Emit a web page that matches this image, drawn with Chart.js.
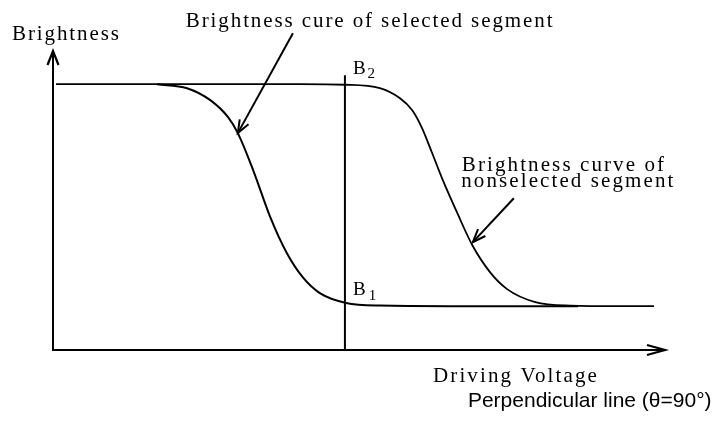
<!DOCTYPE html>
<html>
<head>
<meta charset="utf-8">
<script src="https://cdn.jsdelivr.net/npm/chart.js@4.4.1/dist/chart.umd.min.js"></script>
<style>
  html, body { margin: 0; padding: 0; background: #fff; }
  #wrap { width: 716px; height: 427px; position: relative; }
</style>
</head>
<body>
<div id="wrap"><canvas id="chart"></canvas></div>
<script>
// Driving voltage (arbitrary units) and normalised brightness.
const selectedX = [1.70, 2.19, 2.57, 2.86, 3.02, 3.27, 3.55, 3.82, 4.08, 4.36, 4.79, 5.34, 6.49, 8.58];
const selectedY = [1.000, 0.985, 0.940, 0.876, 0.816, 0.677, 0.500, 0.365, 0.274, 0.214, 0.177, 0.167, 0.165, 0.165];

const nonselectedX = [0.05, 4.04, 4.77, 5.34, 5.67, 5.87, 6.03, 6.19, 6.37, 6.62, 6.85, 7.14, 7.42, 7.88, 8.45, 9.26, 9.82];
const nonselectedY = [1.000, 1.000, 0.998, 0.985, 0.947, 0.902, 0.835, 0.744, 0.639, 0.508, 0.395, 0.293, 0.229, 0.180, 0.167, 0.165, 0.165];

// Perpendicular line (theta = 90deg) at the selected driving voltage
const perpendicularX = [4.77, 4.77];
const perpendicularY = [0, 1.034];

const axisTitles = { y: 'Brightness', x: 'Driving Voltage' };
const curveNotes = ['Brightness cure of selected segment', 'Brightness curve of', 'nonselected segment'];
const footNote = 'Perpendicular line (\u03b8=90\u00b0)';

const toPoints = (xs, ys) => xs.map((x, i) => ({ x, y: ys[i] }));

const SERIF = '"Liberation Serif", "Times New Roman", serif';
const SANS = '"Liberation Sans", Arial, sans-serif';

function arrowHead(ctx, x1, y1, x2, y2, len, half) {
  const a = Math.atan2(y2 - y1, x2 - x1);
  const bx = x2 - len * Math.cos(a), by = y2 - len * Math.sin(a);
  const nx = -Math.sin(a) * half, ny = Math.cos(a) * half;
  ctx.beginPath();
  ctx.moveTo(bx + nx, by + ny);
  ctx.lineTo(x2, y2);
  ctx.lineTo(bx - nx, by - ny);
  ctx.stroke();
}

const sketchPlugin = {
  id: 'sketch',
  afterDatasetsDraw(chart) {
    const { ctx, chartArea } = chart;
    const sx = chart.scales.x, sy = chart.scales.y;
    const px = v => sx.getPixelForValue(v);
    const py = v => sy.getPixelForValue(v);

    ctx.save();
    ctx.strokeStyle = '#000';
    ctx.fillStyle = '#000';
    ctx.lineCap = 'butt';

    // axes with open arrow heads
    const ox = px(0), oy = py(0);
    ctx.lineWidth = 2;
    ctx.beginPath();
    ctx.moveTo(ox, oy + 1);
    ctx.lineTo(ox, chartArea.top);
    ctx.moveTo(ox - 1, oy);
    ctx.lineTo(chartArea.right, oy);
    ctx.stroke();
    ctx.lineWidth = 2.2;
    arrowHead(ctx, ox, oy, ox, chartArea.top, 14, 5.5);
    arrowHead(ctx, ox, oy, chartArea.right, oy, 18, 5);

    // pointer arrows to the curves
    ctx.lineWidth = 2;
    const pointers = [[3.92, 1.192, 3.02, 0.816], [7.53, 0.571, 6.86, 0.406]];
    pointers.forEach(([x1, y1, x2, y2]) => {
      ctx.beginPath();
      ctx.moveTo(px(x1), py(y1));
      ctx.lineTo(px(x2), py(y2));
      ctx.stroke();
      arrowHead(ctx, px(x1), py(y1), px(x2), py(y2), 13, 5);
    });

    // texts
    ctx.textBaseline = 'alphabetic';
    ctx.textAlign = 'left';
    const text = (s, x, y, font, spacing) => {
      ctx.font = font;
      ctx.letterSpacing = spacing || '0px';
      ctx.fillText(s, px(x), py(y));
    };
    text(axisTitles.y, -0.67, 1.165, '21px ' + SERIF, '1.9px');
    text(axisTitles.x, 6.21, -0.120, '21px ' + SERIF, '2.1px');
    text(curveNotes[0], 2.17, 1.214, '21px ' + SERIF, '1.9px');
    text(curveNotes[1], 6.68, 0.673, '21px ' + SERIF, '2.1px');
    text(curveNotes[2], 6.67, 0.613, '21px ' + SERIF, '2.1px');
    text(footNote, 6.78, -0.214, '21px ' + SANS, '0px');

    text('B', 4.90, 1.039, '19px ' + SERIF, '0px');
    text('2', 5.14, 1.023, '15px ' + SERIF, '0px');
    text('B', 4.90, 0.207, '19px ' + SERIF, '0px');
    text('1', 5.16, 0.188, '15px ' + SERIF, '0px');

    ctx.restore();
  }
};

const lineStyle = {
  showLine: true,
  borderColor: '#000',
  backgroundColor: '#000',
  pointRadius: 0,
  fill: false,
  clip: false
};

new Chart(document.getElementById('chart'), {
  type: 'scatter',
  data: {
    datasets: [
      { ...lineStyle, label: 'Selected segment', data: toPoints(selectedX, selectedY),
        borderWidth: 2, cubicInterpolationMode: 'monotone' },
      { ...lineStyle, label: 'Nonselected segment', data: toPoints(nonselectedX, nonselectedY),
        borderWidth: 1.8, cubicInterpolationMode: 'monotone' },
      { ...lineStyle, label: 'Perpendicular line', data: toPoints(perpendicularX, perpendicularY),
        borderWidth: 2 }
    ]
  },
  options: {
    responsive: true,
    maintainAspectRatio: false,
    animation: false,
    events: [],
    layout: { padding: { left: 53, right: 51, top: 51, bottom: 77 } },
    plugins: { legend: { display: false }, tooltip: { enabled: false }, title: { display: false } },
    scales: {
      x: { type: 'linear', min: 0, max: 10, display: false },
      y: { type: 'linear', min: 0, max: 1.125, display: false }
    }
  },
  plugins: [sketchPlugin]
});
</script>
</body>
</html>
